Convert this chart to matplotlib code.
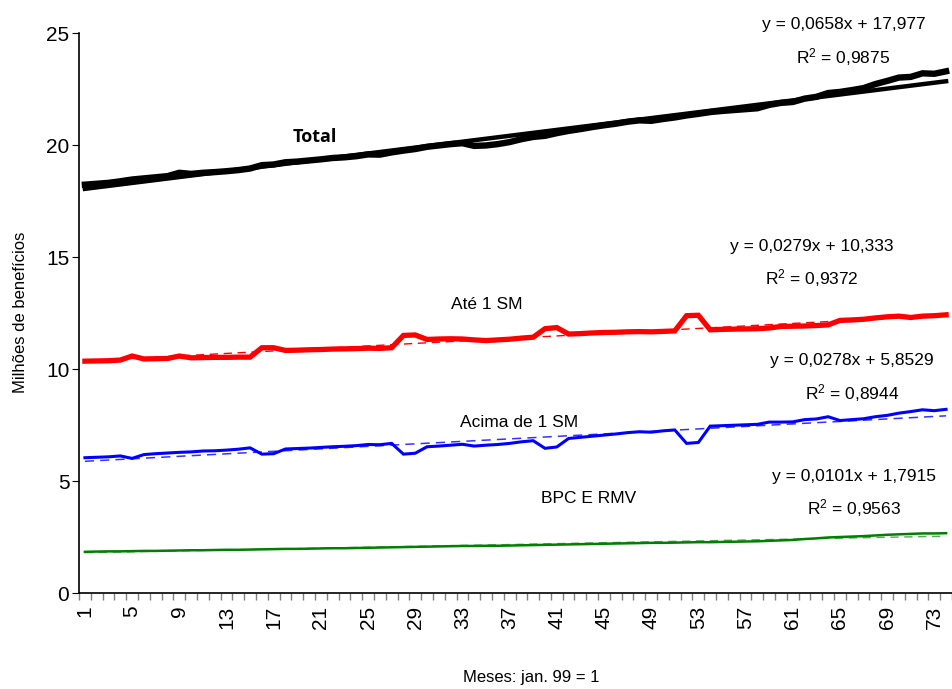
import numpy as np
import matplotlib.pyplot as plt

# monthly benefit counts, in millions (jan. 99 = month 1)
months = np.arange(1, 75)

total = [18.23, 18.27, 18.31, 18.38, 18.46, 18.51, 18.56, 18.61, 18.76, 18.71,
         18.76, 18.79, 18.83, 18.88, 18.95, 19.10, 19.13, 19.23, 19.26, 19.31,
         19.36, 19.42, 19.45, 19.50, 19.58, 19.57, 19.67, 19.75, 19.82, 19.92,
         19.98, 20.04, 20.08, 19.96, 19.98, 20.04, 20.13, 20.26, 20.36, 20.41,
         20.53, 20.63, 20.71, 20.80, 20.88, 20.95, 21.04, 21.10, 21.08, 21.16,
         21.23, 21.32, 21.39, 21.47, 21.52, 21.56, 21.60, 21.64, 21.79, 21.88,
         21.92, 22.07, 22.15, 22.32, 22.37, 22.45, 22.54, 22.72, 22.86, 23.01,
         23.04, 23.20, 23.18, 23.29]

ate_1sm = [10.35, 10.36, 10.37, 10.40, 10.58, 10.45, 10.46, 10.47, 10.58, 10.50,
           10.51, 10.52, 10.52, 10.53, 10.53, 10.95, 10.95, 10.83, 10.84, 10.86,
           10.87, 10.89, 10.90, 10.91, 10.93, 10.92, 10.95, 11.50, 11.52, 11.32,
           11.34, 11.35, 11.34, 11.30, 11.27, 11.30, 11.33, 11.38, 11.42, 11.80,
           11.85, 11.56, 11.58, 11.61, 11.63, 11.64, 11.66, 11.67, 11.66, 11.68,
           11.70, 12.38, 12.40, 11.75, 11.77, 11.78, 11.79, 11.80, 11.83, 11.90,
           11.91, 11.92, 11.94, 11.97, 12.17, 12.19, 12.22, 12.28, 12.33, 12.36,
           12.30, 12.36, 12.38, 12.42]

acima_1sm = [6.04, 6.06, 6.08, 6.12, 6.01, 6.18, 6.22, 6.25, 6.28, 6.30,
             6.34, 6.35, 6.38, 6.42, 6.48, 6.20, 6.22, 6.43, 6.45, 6.47,
             6.50, 6.53, 6.55, 6.58, 6.63, 6.62, 6.68, 6.20, 6.24, 6.53,
             6.56, 6.60, 6.64, 6.56, 6.60, 6.63, 6.68, 6.75, 6.80, 6.46,
             6.52, 6.90, 6.95, 7.00, 7.05, 7.10, 7.16, 7.20, 7.18, 7.24,
             7.28, 6.68, 6.72, 7.45, 7.47, 7.49, 7.51, 7.53, 7.63, 7.63,
             7.64, 7.74, 7.77, 7.87, 7.70, 7.74, 7.78, 7.87, 7.93, 8.03,
             8.10, 8.18, 8.14, 8.20]

bpc_rmv = [1.84, 1.85, 1.86, 1.86, 1.87, 1.88, 1.88, 1.89, 1.90, 1.91,
           1.91, 1.92, 1.93, 1.93, 1.94, 1.95, 1.96, 1.97, 1.97, 1.98,
           1.99, 2.00, 2.00, 2.01, 2.02, 2.03, 2.04, 2.05, 2.06, 2.07,
           2.08, 2.09, 2.10, 2.10, 2.11, 2.11, 2.12, 2.13, 2.14, 2.15,
           2.16, 2.17, 2.18, 2.19, 2.20, 2.21, 2.22, 2.23, 2.24, 2.24,
           2.25, 2.26, 2.27, 2.27, 2.28, 2.29, 2.30, 2.31, 2.33, 2.35,
           2.37, 2.41, 2.44, 2.48, 2.50, 2.52, 2.54, 2.57, 2.60, 2.62,
           2.64, 2.66, 2.66, 2.67]

# linear trends (slope, intercept, R2)
trend_total = (0.0658, 17.977, 0.9875)
trend_ate = (0.0279, 10.333, 0.9372)
trend_acima = (0.0278, 5.8529, 0.8944)
trend_bpc = (0.0101, 1.7915, 0.9563)

plt.rcParams['font.family'] = ['Liberation Sans', 'DejaVu Sans']


def fmt(v):
    return ('%g' % v).replace('.', ',')


def trend_label(ax, tr, x, y):
    a, b, r2 = tr
    ax.text(x, y, 'y = %sx + %s' % (fmt(a), fmt(b)), ha='center', va='center',
            fontsize=12.5, clip_on=False)
    ax.text(x, y - 1.42, '$\\mathregular{R^2}$ = %s' % fmt(r2), ha='center',
            va='center', fontsize=12.5, clip_on=False)


fig = plt.figure(figsize=(9.52, 6.89), dpi=100)
ax = fig.add_axes([0.083, 0.1393, 0.917, 0.8128])

x = np.array(months)
series = [
    (total, trend_total, 'black', 4.6, dict(color='black', lw=3.2, ls='-')),
    (ate_1sm, trend_ate, '#ff0000', 3.8, dict(color='#ff0000', lw=1.0, ls=(0, (6, 4)))),
    (acima_1sm, trend_acima, '#0000ff', 2.2, dict(color='#3333ff', lw=1.1, ls=(0, (6, 4)))),
    (bpc_rmv, trend_bpc, '#008000', 1.8, dict(color='#55aa55', lw=1.0, ls=(0, (6, 4)))),
]
for vals, tr, col, lw, tstyle in series:
    ax.plot(x, tr[0] * x + tr[1], zorder=2, **tstyle)
    ax.plot(x, vals, color=col, lw=lw, solid_joinstyle='miter', zorder=3)

trend_label(ax, trend_total, 65.3, 25.36)
trend_label(ax, trend_ate, 62.6, 15.47)
trend_label(ax, trend_acima, 66.0, 10.36)
trend_label(ax, trend_bpc, 66.2, 5.2)

ax.text(20.5, 20.36, 'Total', ha='center', va='center', fontsize=13,
        fontweight='bold', family=['Open Sans', 'DejaVu Sans'])
ax.text(35.1, 12.9, 'Até 1 SM', ha='center', va='center', fontsize=12.5)
ax.text(37.8, 7.6, 'Acima de 1 SM', ha='center', va='center', fontsize=12.5)
ax.text(43.7, 4.24, 'BPC E RMV', ha='center', va='center', fontsize=12.5)

ax.set_xlim(0.5, 74.5)
ax.set_ylim(0, 25)
ax.set_yticks(range(0, 26, 5))
ax.set_xticks(np.arange(0.5, 75, 1), minor=True)
ax.set_xticks(months[::4])
ax.set_xticklabels([str(m) for m in months[::4]], rotation=90)
ax.tick_params(axis='x', which='major', length=0, labelsize=15, pad=9)
ax.tick_params(axis='x', which='minor', length=5, color='#808080', width=1)
ax.tick_params(axis='y', length=5, labelsize=15, pad=2)

for s in ['top', 'right']:
    ax.spines[s].set_visible(False)
ax.spines['left'].set_linewidth(1.2)
ax.spines['bottom'].set_linewidth(1.2)

fig.text(0.0215, 0.547, 'Milhões de benefícios', rotation=90, ha='center',
         va='center', fontsize=12)
fig.text(0.558, 0.016, 'Meses: jan. 99 = 1', ha='center', va='center',
         fontsize=12)

fig.savefig('out.png', dpi=100)
